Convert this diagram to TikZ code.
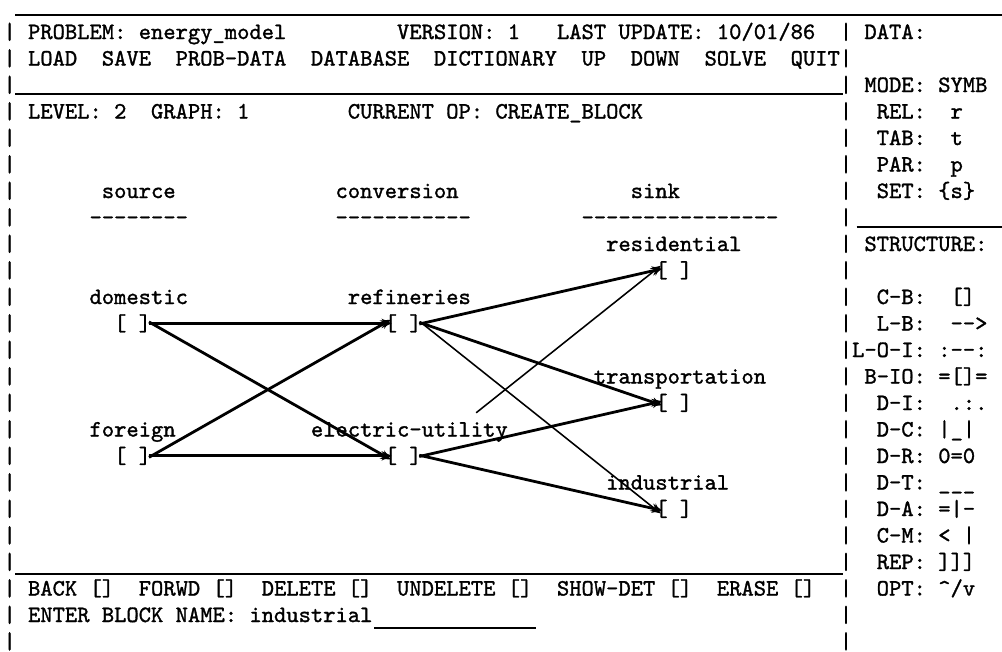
\documentclass[tikz,border=0pt]{standalone}
\usetikzlibrary{arrows.meta,positioning}
\font\scrtt="[lmmono10-regular.otf]:embolden=1.3" at 10.5pt
\newcommand\scrfont{\scrtt}

\begin{document}
\begin{tikzpicture}[x=5.5125pt,y=-11.877pt,>={Stealth[length=4.5pt,width=4.2pt]},
  every node/.style={inner sep=0pt,anchor=base west,font=\scrfont},
  flow/.style={->,line width=1.25pt,shorten <=-1.3pt,shorten >=-3.3pt},
  thinflow/.style={flow,line width=0.7pt},
  rule/.style={line width=0.9pt}]
\useasboundingbox (0,0) rectangle (81.463,24.566);
\begin{scope}[shift={(0.2439,0.4717)}]
% screen frame
\foreach \r in {1,...,24} {
  \node (lbar\r) at (0,\r) {|};
  \node (rbar\r) at (68,\r) {|};
}
\draw[rule] (1,0.09) -- (81.3,0.09);
\draw[rule] (1,3.08) -- (68.3,3.08);
\draw[rule] (69.4,8.09) -- (81.3,8.09);
\draw[rule] (1,21.2) -- (68.3,21.2);

% header and menu
\node (prob) at (2,1) {PROBLEM: energy\_model};
\node (vers) at (32,1) {VERSION: 1};
\node (upd) at (45,1) {LAST UPDATE: 10/01/86};
\node (data) at (70,1) {DATA:};
\foreach \c/\t in {2/LOAD,8/SAVE,14/PROB-DATA,25/DATABASE,35/DICTIONARY,47/UP,51/DOWN,57/SOLVE,64/QUIT}
  \node (menu\c) at (\c,2) {\t};
\node (level) at (2,4) {LEVEL: 2~~GRAPH: 1};
\node (curop) at (28,4) {CURRENT OP: CREATE\_BLOCK};

% right panel
\node (mode) at (70,3) {MODE:~SYMB};
\node (rel) at (71,4) {REL:~~r};
\node (tab) at (71,5) {TAB:~~t};
\node (par) at (71,6) {PAR:~~p};
\node (set) at (71,7) {SET:~\{s\}};
\node (struct) at (70,9) {STRUCTURE:};
\node (cb) at (71,11) {C-B:~~[]};
\node (lb) at (71,12) {L-B:~~-->};
\node (loi) at (69,13) {L-O-I:~:--:};
\node (bio) at (70,14) {B-IO:~=[]=};
\node (di) at (71,15) {D-I:~~.:.};
\node (dc) at (71,16) {D-C:~|\_|};
\node (dr) at (71,17) {D-R:~0=0};
\node (dt) at (71,18) {D-T:~\_\_\_};
\node (da) at (71,19) {D-A:~=|-};
\node (cm) at (71,20) {C-M:~<~|};
\node (rep) at (71,21) {REP:~]]]};
\node (opt) at (71,22) {OPT:~\textasciicircum/v};

% graph columns
\node (srchd) at (8,7) {source};
\node (srcln) at (7,8) {--------};
\node (convhd) at (27,7) {conversion};
\node (convln) at (27,8) {-----------};
\node (sinkhd) at (51,7) {sink};
\node (sinkln) at (47,8) {----------------};

% blocks
\node (domlab) at (7,11) {domestic};
\node (dom) at (9,12) {[~]};
\node (frnlab) at (7,16) {foreign};
\node (frn) at (9,17) {[~]};
\node (reflab) at (28,11) {refineries};
\node (ref) at (31,12) {[~]};
\node (elelab) at (25,16) {electric-utility};
\node (ele) at (31,17) {[~]};
\node (reslab) at (49,9) {residential};
\node (res) at (53,10) {[~]};
\node (tralab) at (48,14) {transportation};
\node (tra) at (53,15) {[~]};
\node (indlab) at (49,18) {industrial};
\node (ind) at (53,19) {[~]};

% links
\draw[flow] (dom.east) -- (ref.west);
\draw[flow] (dom.east) -- (ele.west);
\draw[flow] (frn.east) -- (ref.west);
\draw[flow] (frn.east) -- (ele.west);
\draw[flow] (ref.east) -- (res.west);
\draw[flow] (ref.east) -- (tra.west);
\draw[thinflow] (ref.east) -- (ind.west);
\draw[thinflow,shorten <=31pt] (ele.east) -- (res.west);
\draw[flow] (ele.east) -- (tra.west);
\draw[flow] (ele.east) -- (ind.west);

% command line
\foreach \c/\t in {2/BACK,11/FORWD,21/DELETE,32/UNDELETE,45/SHOW-DET,58/ERASE}
  \node (btn\c) at (\c,22) {\t~[]};
\node (enter) at (2,23) {ENTER BLOCK NAME: industrial};
\draw[rule] (enter.base east) ++(0.1,0.23) -- ++(13.2,0);
\end{scope}
\end{tikzpicture}
\end{document}
